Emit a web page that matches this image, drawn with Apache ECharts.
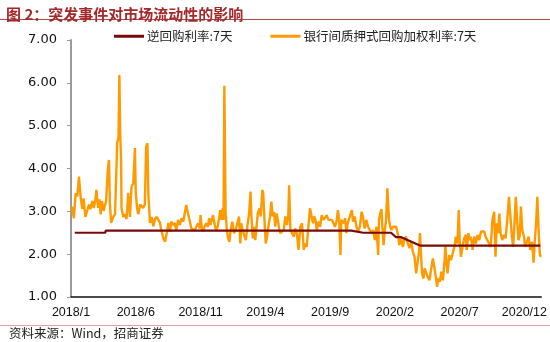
<!DOCTYPE html>
<html>
<head>
<meta charset="utf-8">
<script src="https://cdn.jsdelivr.net/npm/echarts@6/dist/echarts.min.js"></script>
<style>
html,body{margin:0;padding:0;background:#fff;}
#chart{width:550px;height:342px;}
</style>
</head>
<body>
<div id="chart"></div>
<script>
// ---- data ----
var titleText = '图 2：突发事件对市场流动性的影响';
var sourceText = '资料来源：Wind，招商证券';
var seriesNames = ['逆回购利率:7天', '银行间质押式回购加权利率:7天'];

var xTickMonths = [0, 5, 10, 15, 20, 25, 30, 35]; // 2018/1 ... 2020/12
var yTicks = [1, 2, 3, 4, 5, 6, 7];

var repoDates = ['2018-01-10','2018-03-21','2018-03-22','2019-10-21','2019-11-18','2020-01-23','2020-02-03','2020-02-14','2020-03-30','2021-01-08'];
var repoValues = [2.50, 2.50, 2.55, 2.55, 2.50, 2.50, 2.40, 2.40, 2.20, 2.20];

var r007Dates = [
'2018-01-03','2018-01-08','2018-01-12','2018-01-16','2018-01-20','2018-01-24','2018-01-28','2018-01-31',
'2018-02-04','2018-02-08','2018-02-12','2018-02-15','2018-02-19','2018-02-22','2018-02-26','2018-02-28',
'2018-03-04','2018-03-07','2018-03-10','2018-03-13','2018-03-17','2018-03-20','2018-03-23','2018-03-27','2018-03-30',
'2018-04-01','2018-04-04','2018-04-09','2018-04-13','2018-04-18','2018-04-21','2018-04-23','2018-04-25','2018-04-27','2018-04-28',
'2018-05-02','2018-05-06','2018-05-10','2018-05-14','2018-05-18','2018-05-22','2018-05-26','2018-05-30',
'2018-06-01','2018-06-04','2018-06-07','2018-06-11','2018-06-14','2018-06-18','2018-06-22','2018-06-25','2018-06-28','2018-06-30',
'2018-07-04','2018-07-08','2018-07-12','2018-07-16','2018-07-20','2018-07-24','2018-07-28','2018-07-31',
'2018-08-05','2018-08-09','2018-08-13','2018-08-17','2018-08-21','2018-08-24','2018-08-28',
'2018-09-01','2018-09-05','2018-09-09','2018-09-13','2018-09-17','2018-09-21','2018-09-24','2018-09-28',
'2018-10-02','2018-10-06','2018-10-10','2018-10-14','2018-10-18','2018-10-22','2018-10-26','2018-10-30',
'2018-11-01','2018-11-04','2018-11-07','2018-11-10','2018-11-14','2018-11-18','2018-11-21','2018-11-24','2018-11-27','2018-11-30',
'2018-12-03','2018-12-07','2018-12-11','2018-12-15','2018-12-17','2018-12-20','2018-12-23','2018-12-25','2018-12-27','2018-12-30',
'2019-01-02','2019-01-05','2019-01-08','2019-01-11','2019-01-15','2019-01-19','2019-01-23','2019-01-27','2019-01-31',
'2019-02-03','2019-02-05','2019-02-08','2019-02-11','2019-02-15','2019-02-18','2019-02-22','2019-02-25','2019-02-27',
'2019-03-02','2019-03-05','2019-03-08','2019-03-11','2019-03-14','2019-03-18','2019-03-21','2019-03-25','2019-03-27','2019-03-30',
'2019-04-02','2019-04-05','2019-04-08','2019-04-12','2019-04-15','2019-04-18','2019-04-21','2019-04-24','2019-04-27','2019-04-30',
'2019-05-03','2019-05-06','2019-05-10','2019-05-14','2019-05-18','2019-05-22','2019-05-25','2019-05-27','2019-05-30',
'2019-06-03','2019-06-07','2019-06-10','2019-06-14','2019-06-18','2019-06-22','2019-06-26','2019-06-30',
'2019-07-03','2019-07-07','2019-07-11','2019-07-15','2019-07-19','2019-07-22','2019-07-25','2019-07-28','2019-07-31',
'2019-08-04','2019-08-08','2019-08-12','2019-08-16','2019-08-20','2019-08-24','2019-08-28',
'2019-09-01','2019-09-05','2019-09-09','2019-09-12','2019-09-16','2019-09-19','2019-09-22','2019-09-25','2019-09-27','2019-09-30',
'2019-10-03','2019-10-06','2019-10-09','2019-10-12','2019-10-16','2019-10-19','2019-10-22','2019-10-25','2019-10-29',
'2019-11-02','2019-11-06','2019-11-10','2019-11-14','2019-11-17','2019-11-21','2019-11-25','2019-11-29',
'2019-12-03','2019-12-07','2019-12-11','2019-12-15','2019-12-19','2019-12-23','2019-12-25','2019-12-28','2019-12-31',
'2020-01-02','2020-01-05','2020-01-08','2020-01-11','2020-01-14','2020-01-18','2020-01-21','2020-01-24','2020-01-27','2020-01-31',
'2020-02-04','2020-02-08','2020-02-11','2020-02-15','2020-02-19','2020-02-22','2020-02-26',
'2020-03-01','2020-03-05','2020-03-09','2020-03-13','2020-03-17','2020-03-21','2020-03-25','2020-03-28','2020-03-30',
'2020-04-01','2020-04-04','2020-04-07','2020-04-10','2020-04-14','2020-04-17','2020-04-21','2020-04-25','2020-04-29',
'2020-05-03','2020-05-07','2020-05-09','2020-05-12','2020-05-16','2020-05-19','2020-05-23','2020-05-27','2020-05-29','2020-05-31',
'2020-06-03','2020-06-07','2020-06-11','2020-06-15','2020-06-19','2020-06-22','2020-06-26','2020-06-29',
'2020-07-01','2020-07-04','2020-07-08','2020-07-12','2020-07-16','2020-07-18','2020-07-22','2020-07-25','2020-07-28',
'2020-08-01','2020-08-05','2020-08-09','2020-08-13','2020-08-17','2020-08-21','2020-08-25','2020-08-29',
'2020-09-01','2020-09-05','2020-09-09','2020-09-13','2020-09-17','2020-09-21','2020-09-24','2020-09-27','2020-09-30',
'2020-10-03','2020-10-06','2020-10-10','2020-10-14','2020-10-18','2020-10-22','2020-10-26','2020-10-30',
'2020-11-02','2020-11-05','2020-11-08','2020-11-11','2020-11-14','2020-11-17','2020-11-20','2020-11-23','2020-11-26','2020-11-30',
'2020-12-03','2020-12-07','2020-12-11','2020-12-15','2020-12-19','2020-12-23','2020-12-26','2020-12-29',
'2021-01-01','2021-01-04','2021-01-07','2021-01-10'
];
var r007Values = [
3.11,2.84,3.42,3.35,3.81,3.34,3.06,3.30,
2.87,2.90,3.16,3.05,3.24,3.08,3.28,3.50,
3.08,3.28,2.93,3.24,3.01,2.98,3.24,3.97,4.20,
3.19,2.73,2.87,2.93,4.60,4.72,6.18,4.79,4.20,3.08,
2.87,2.93,2.82,3.43,2.87,3.58,3.65,4.48,
3.43,3.08,2.93,3.16,3.20,3.08,3.16,4.51,4.59,3.43,
2.73,2.87,2.65,2.82,2.87,2.84,2.73,2.56,
2.37,2.29,2.48,2.73,2.52,2.76,2.68,
2.73,2.56,2.80,2.68,2.84,2.76,2.93,3.15,
2.95,2.78,2.60,2.56,2.56,2.64,2.72,2.60,
2.91,2.60,2.53,2.64,2.72,2.64,2.84,2.68,2.80,2.91,
2.72,2.56,2.64,2.88,3.03,2.80,3.07,2.80,5.93,2.95,
2.56,2.37,2.29,2.56,2.76,2.49,2.56,2.60,2.88,
2.25,2.72,2.56,2.45,2.33,2.64,2.95,3.46,2.88,
2.37,2.64,2.33,2.64,2.95,3.07,2.88,3.50,3.42,2.80,
2.25,2.41,2.64,2.88,3.23,2.88,2.99,2.64,2.95,2.80,
2.60,2.49,2.53,2.56,2.88,2.68,2.91,3.61,2.56,
2.49,2.41,2.60,2.49,2.10,2.64,2.72,2.10,
2.25,2.17,2.64,3.07,3.11,2.72,2.88,2.80,2.56,
2.76,2.64,2.91,2.80,2.84,2.91,2.80,
2.76,2.80,2.72,2.64,2.76,3.03,2.80,1.98,2.80,2.84,
2.72,2.84,2.49,2.72,2.84,2.80,3.03,2.76,2.88,
2.64,2.53,2.64,2.99,2.88,2.60,2.80,2.64,
2.56,2.49,2.56,2.33,2.64,1.98,2.80,2.95,3.05,
2.64,2.21,2.56,2.80,3.54,2.80,2.64,2.56,2.64,2.68,
2.64,2.45,2.21,2.37,2.17,2.33,2.41,
2.25,2.14,2.29,2.06,1.94,1.55,1.86,2.06,2.49,
2.10,1.55,1.43,1.67,1.71,1.47,1.39,1.43,1.90,
1.67,1.39,1.24,1.43,1.36,1.59,1.39,1.86,2.21,1.86,
1.55,1.98,1.86,2.02,2.17,2.41,2.25,3.03,
2.33,1.94,2.17,2.37,2.45,2.10,2.49,2.33,2.41,
2.10,2.41,2.25,2.45,2.33,2.53,2.56,2.53,
2.41,2.33,2.25,2.17,2.80,2.99,1.94,2.72,2.49,
2.95,2.49,2.33,2.45,2.37,2.80,3.34,3.34,
2.41,2.17,2.72,3.34,3.34,2.33,2.41,3.11,2.56,2.41,
2.17,2.17,2.41,2.10,2.29,1.80,2.33,2.72,
3.34,2.56,1.98,1.94
];

// ---- helpers: date -> months since 2018/1 ----
function monthIndex(s) {
  var p = s.split('-');
  var y = +p[0], m = +p[1], d = +p[2];
  var dim = new Date(y, m, 0).getDate();
  return (y - 2018) * 12 + (m - 1) + (d - 1) / dim;
}
function pairs(dates, vals) {
  return dates.map(function (d, i) { return [monthIndex(d), vals[i]]; });
}

var chart = echarts.init(document.getElementById('chart'), null, {renderer: 'canvas'});
chart.setOption({
  animation: false,
  backgroundColor: '#fff',
  title: {
    text: titleText,
    left: 1, top: 2,
    textStyle: {fontSize: 15, fontWeight: 'bold', color: '#A2282A', fontFamily: 'Noto Sans CJK SC'}
  },
  legend: {
    left: 109, top: 25,
    icon: 'rect', itemWidth: 30, itemHeight: 3, itemGap: 38,
    data: [seriesNames[0], seriesNames[1]],
    textStyle: {fontSize: 12.5, color: '#222', fontFamily: 'Noto Sans CJK SC', padding: [0,0,0,-2]}
  },
  graphic: [
    {type: 'line', shape: {x1: 0, y1: 19.5, x2: 550, y2: 19.5}, style: {stroke: '#B04848', lineWidth: 1}},
    {type: 'line', shape: {x1: 0, y1: 325.5, x2: 550, y2: 325.5}, style: {stroke: '#E3A3A3', lineWidth: 1}},
    {type: 'text', left: 9, top: 327, style: {text: sourceText, fontSize: 12.5, fill: '#222', fontFamily: 'Noto Sans CJK SC'}}
  ],
  grid: {left: 71, right: 6, top: 40, bottom: 45, containLabel: false},
  xAxis: {
    type: 'value', min: 0, max: 36.3, interval: 5,
    axisLine: {show: true, lineStyle: {color: '#111', width: 1.5}},
    axisTick: {show: false},
    splitLine: {show: false},
    axisLabel: {
      showMaxLabel: false, showMinLabel: true,
      margin: 9, fontSize: 12.5, color: '#111', fontFamily: 'Liberation Sans',
      formatter: function (v) {
        if (xTickMonths.indexOf(v) < 0) return '';
        return (2018 + Math.floor(v / 12)) + '/' + (v % 12 + 1);
      }
    }
  },
  yAxis: {
    type: 'value', min: yTicks[0], max: yTicks[yTicks.length - 1], interval: 1,
    axisLine: {show: true, lineStyle: {color: '#9a9a9a', width: 2}},
    axisTick: {show: true, length: 4, lineStyle: {color: '#9a9a9a'}},
    splitLine: {show: false},
    axisLabel: {
      margin: 14, fontSize: 13, color: '#111', fontFamily: 'DejaVu Sans',
      formatter: function (v) { return v.toFixed(2); }
    }
  },
  series: [
    {
      name: seriesNames[1], type: 'line', data: pairs(r007Dates, r007Values),
      showSymbol: false, symbol: 'none', color: '#FF9A00',
      lineStyle: {color: '#FF9A00', width: 2.4}, z: 2
    },
    {
      name: seriesNames[0], type: 'line', data: pairs(repoDates, repoValues),
      showSymbol: false, symbol: 'none', color: '#7A0A0A',
      lineStyle: {color: '#7A0A0A', width: 2.2}, z: 3
    }
  ]
});
</script>
</body>
</html>
